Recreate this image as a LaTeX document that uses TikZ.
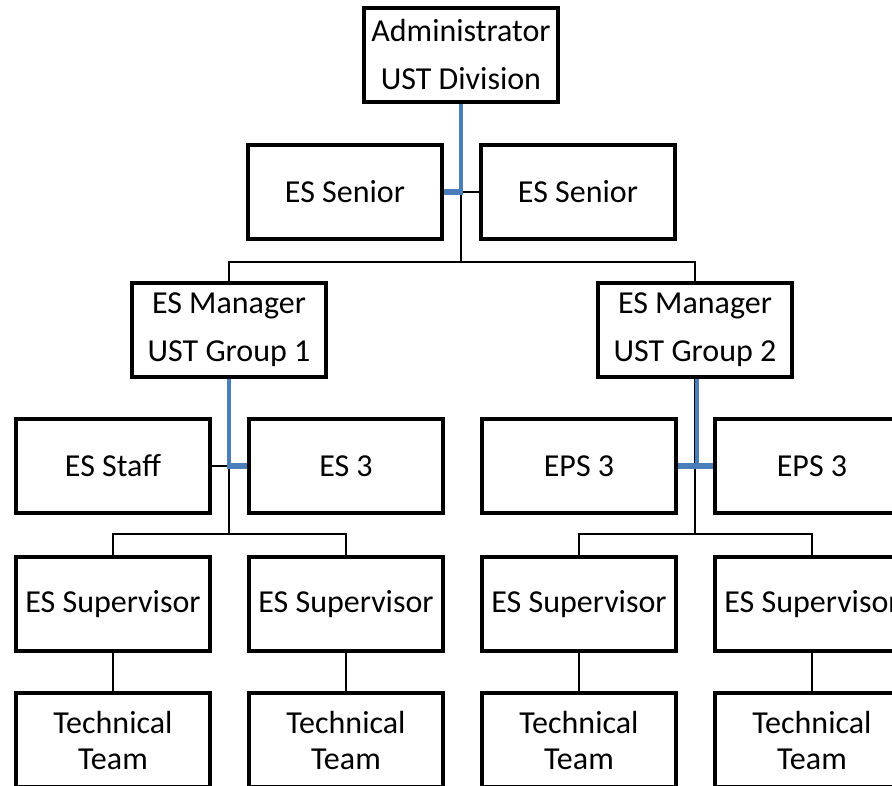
\documentclass[tikz,border=0pt]{standalone}
\usepackage{fontspec}
\setmainfont{Carlito}
\definecolor{linkblue}{HTML}{4A7EBB}
\begin{document}
\begin{tikzpicture}[x=0.75pt,y=-0.75pt,
  box/.style={draw=black,line width=3pt,fill=white,minimum width=145.5pt,minimum height=70.5pt,
    inner sep=0pt,align=center,font=\fontsize{24}{36}\selectfont},
  teambox/.style={box,font=\fontsize{24}{27}\selectfont},
  conn/.style={draw=black,line width=1pt},
  assistv/.style={draw=linkblue,line width=2.4pt},
  assisth/.style={draw=linkblue,line width=3.8pt}]
\useasboundingbox (0,0) rectangle (892,785);
\clip (0,0) rectangle (892,785);
\fill[white] (0,0) rectangle (892,785);
\node[box] (admin) at (461,55) {Administrator\\UST Division};
\node[box] (sL) at (345,192) {ES Senior};
\node[box] (sR) at (578,192) {ES Senior};
\node[box] (m1) at (229,330) {ES Manager\\UST Group 1};
\node[box] (m2) at (695,330) {ES Manager\\UST Group 2};
\node[box] (staff) at (113,466) {ES Staff};
\node[box] (es3) at (346,466) {ES 3};
\node[box] (eA) at (579,466) {EPS 3};
\node[box] (eB) at (812,466) {EPS 3};
\node[box] (su1) at (113,604) {ES Supervisor};
\node[box] (su2) at (346,604) {ES Supervisor};
\node[box] (su3) at (579,604) {ES Supervisor};
\node[box] (su4) at (812,604) {ES Supervisor};
\node[teambox] (t1) at (113,740) {Technical\\Team};
\node[teambox] (t2) at (346,740) {Technical\\Team};
\node[teambox] (t3) at (579,740) {Technical\\Team};
\node[teambox] (t4) at (812,740) {Technical\\Team};
% junctions
\coordinate (ja) at (admin.south |- sL.east);
\coordinate (jb) at ([yshift=-70*0.75pt]ja);
\coordinate (jc) at (m1.south |- staff.east);
\coordinate (jd) at ([yshift=-68*0.75pt]jc);
\coordinate (je) at (m2.south |- eA.east);
\coordinate (jf) at ([yshift=-68*0.75pt]je);
% top level
\draw[conn] (admin.south) -- (jb);
\draw[conn] (ja) -- (sR.west);
\draw[conn] (m1.north) |- (jb) -| (m2.north);
\draw[assistv] (admin.south) -- ([yshift=-1.2pt]ja);
\draw[assisth] (sL.east) -- ([xshift=1.2pt]ja);
% manager 1
\draw[conn] (m1.south) -- (jd);
\draw[conn] (staff.east) -- (jc);
\draw[conn] (su1.north) |- (jd) -| (su2.north);
\draw[assistv] (m1.south) -- ([yshift=1.9pt]jc);
\draw[assisth] ([xshift=-1.2pt]jc) -- (es3.west);
% manager 2
\draw[conn] (m2.south) -- (jf);
\draw[conn] (su3.north) |- (jf) -| (su4.north);
\draw[assistv] ([xshift=1.5pt]m2.south) -- ([xshift=1.5pt,yshift=1.9pt]je);
\draw[assisth] (eA.east) -- (eB.west);
% supervisors to teams
\draw[conn] (su1.south) -- (t1.north);
\draw[conn] (su2.south) -- (t2.north);
\draw[conn] (su3.south) -- (t3.north);
\draw[conn] (su4.south) -- (t4.north);
\end{tikzpicture}
\end{document}
